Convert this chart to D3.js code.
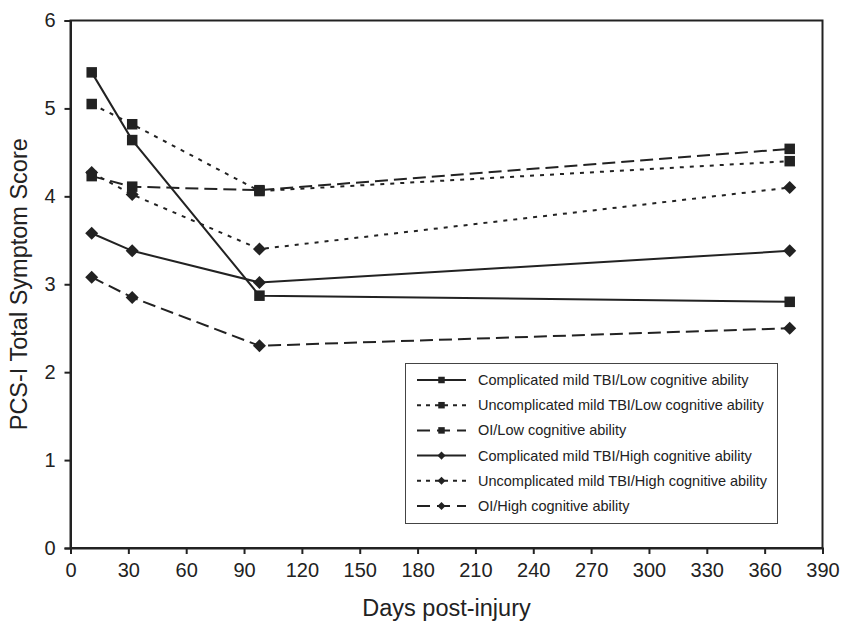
<!DOCTYPE html>
<html><head><meta charset="utf-8">
<script src="https://cdn.jsdelivr.net/npm/d3@7"></script>
<style>body{margin:0;background:#fff}svg{display:block}text{font-family:"Liberation Sans",Arial,sans-serif;fill:#222}</style>
</head><body><svg id="c" width="843" height="621"></svg>
<script>
const days = [11, 32, 98, 373];
const seriesNames = [
  "Complicated mild TBI/Low cognitive ability",
  "Uncomplicated mild TBI/Low cognitive ability",
  "OI/Low cognitive ability",
  "Complicated mild TBI/High cognitive ability",
  "Uncomplicated mild TBI/High cognitive ability",
  "OI/High cognitive ability"
];
const compLow   = [5.41, 4.64, 2.87, 2.80];
const uncompLow = [5.05, 4.82, 4.06, 4.40];
const oiLow     = [4.23, 4.11, 4.07, 4.54];
const compHigh  = [3.58, 3.38, 3.02, 3.38];
const uncompHigh= [4.27, 4.02, 3.40, 4.10];
const oiHigh    = [3.08, 2.85, 2.30, 2.50];
const xTicks = [0,30,60,90,120,150,180,210,240,270,300,330,360,390];
const yTicks = [0,1,2,3,4,5,6];
const markers = ["square","square","square","diamond","diamond","diamond"];
const dashes = [null, "4,6", "13,6", null, "4,6", "13,6"];

const allValues = [compLow, uncompLow, oiLow, compHigh, uncompHigh, oiHigh];
const series = seriesNames.map((n,i)=>({name:n, values:allValues[i], marker:markers[i], dash:dashes[i]}));

const svg = d3.select("#c");
const L=70.5, R=822.5, T=20.5, B=548;
const x = d3.scaleLinear().domain([0,390]).range([L,R]);
const y = d3.scaleLinear().domain([0,6]).range([B,T]);

svg.append("rect").attr("x",L).attr("y",T).attr("width",R-L).attr("height",B-T)
  .attr("fill","none").attr("stroke","#222").attr("stroke-width",2);

const xAxis = svg.append("g").attr("transform",`translate(0,${B})`)
  .call(d3.axisBottom(x).tickValues(xTicks).tickSize(6).tickPadding(9).tickFormat(d3.format("d")));
const yAxis = svg.append("g").attr("transform",`translate(${L},0)`)
  .call(d3.axisLeft(y).tickValues(yTicks).tickSize(6).tickPadding(9).tickFormat(d3.format("d")));
[xAxis,yAxis].forEach(a=>{
  a.select(".domain").attr("stroke","#222").attr("stroke-width",2);
  a.selectAll(".tick line").attr("stroke","#222").attr("stroke-width",2);
  a.selectAll(".tick text").attr("font-size",20).style("fill","#222");
});

svg.append("text").attr("x",(L+R)/2).attr("y",616).attr("text-anchor","middle")
  .attr("font-size",23.5).text("Days post-injury");
svg.append("text").attr("transform",`translate(27,${(T+B)/2}) rotate(-90)`).attr("text-anchor","middle")
  .attr("font-size",23.5).text("PCS-I Total Symptom Score");

const line = d3.line().x((d,i)=>x(days[i])).y(d=>y(d));
function drawMarker(g, type, cx, cy, s){
  if(type==="square"){
    g.append("rect").attr("x",cx-s/2).attr("y",cy-s/2).attr("width",s).attr("height",s).attr("fill","#222");
  } else {
    const h=s*0.62;
    g.append("path").attr("d",`M${cx},${cy-h}L${cx+h},${cy}L${cx},${cy+h}L${cx-h},${cy}Z`).attr("fill","#222");
  }
}
const plot = svg.append("g");
series.forEach(s=>{
  plot.append("path").datum(s.values).attr("d",line).attr("fill","none")
    .attr("stroke","#222").attr("stroke-width",2).attr("stroke-dasharray",s.dash);
});
series.forEach(s=>{
  s.values.forEach((v,i)=>drawMarker(plot,s.marker,x(days[i]),y(v),10.5));
});

const lg = svg.append("g");
lg.append("rect").attr("x",405.5).attr("y",363.5).attr("width",372).attr("height",160)
  .attr("fill","#fff").attr("stroke","#444").attr("stroke-width",1);
series.forEach((s,i)=>{
  const yy = 380 + i*25.2;
  lg.append("line").attr("x1",417).attr("x2",466).attr("y1",yy).attr("y2",yy)
    .attr("stroke","#222").attr("stroke-width",2)
    .attr("stroke-dasharray", s.dash ? (s.dash==="4,6"?"4,5":"13,7") : null);
  drawMarker(lg, s.marker, 441.5, yy, 6.5);
  lg.append("text").attr("x",478).attr("y",yy).attr("dy","0.35em").attr("font-size",14.5).text(s.name);
});
</script></body></html>
